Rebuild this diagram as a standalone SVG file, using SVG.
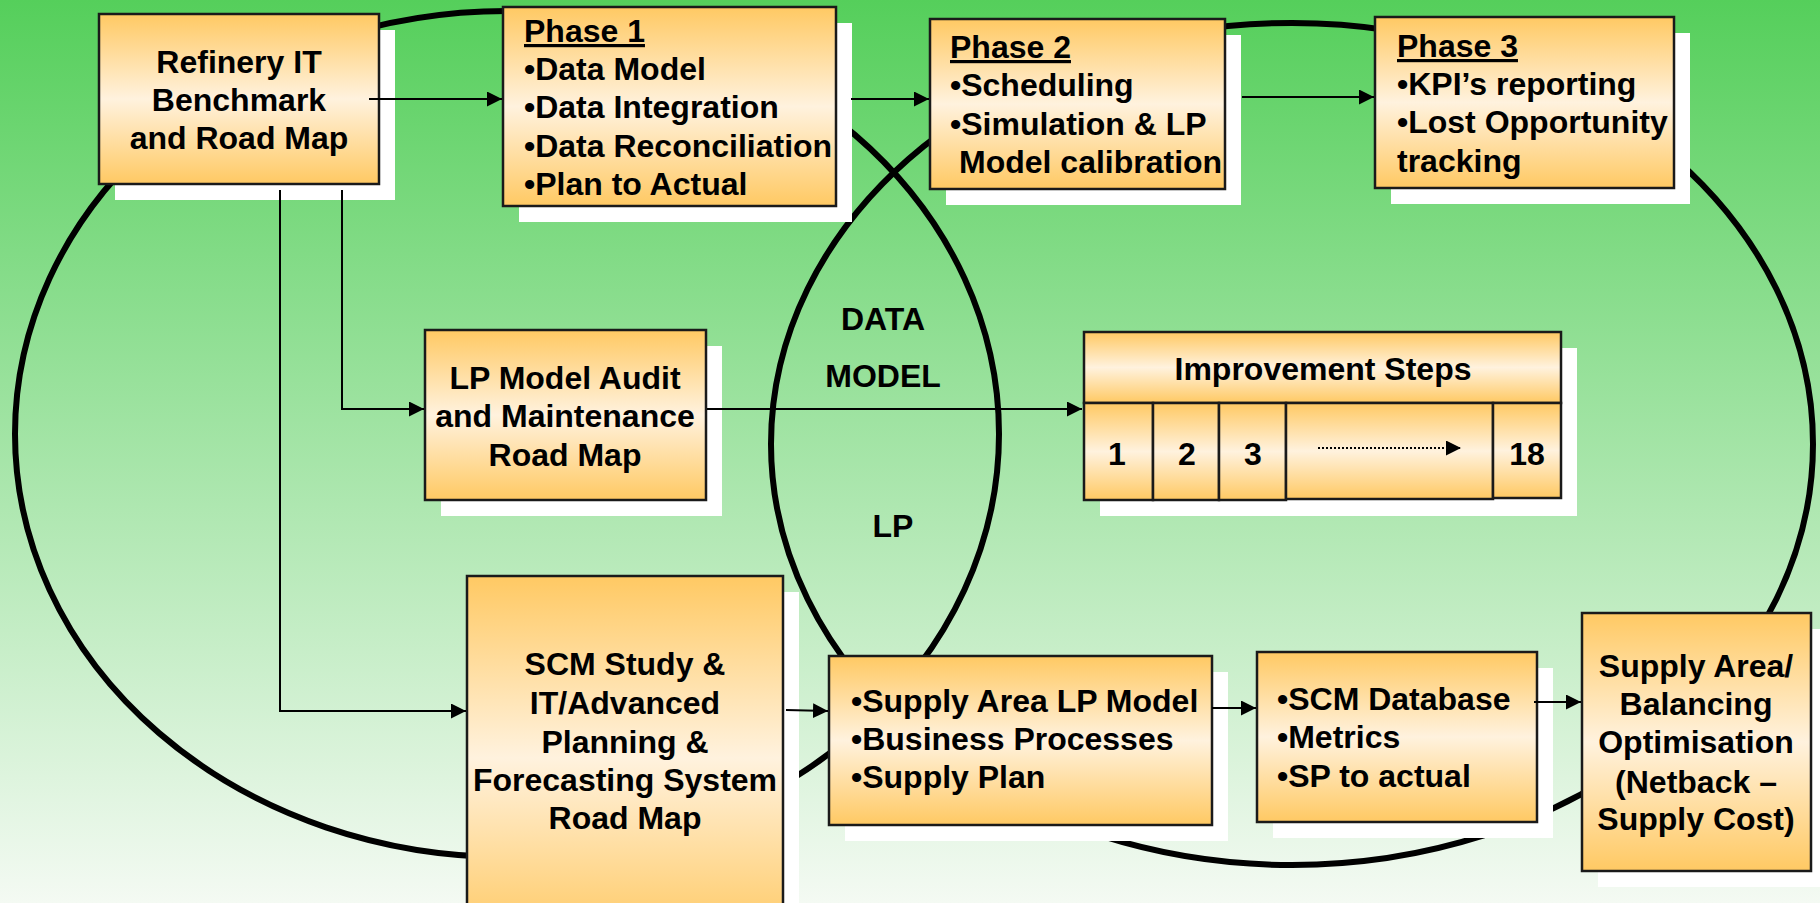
<svg xmlns="http://www.w3.org/2000/svg" width="1820" height="903" viewBox="0 0 1820 903">
<defs>
<linearGradient id="bg" x1="0" y1="0" x2="0" y2="1">
<stop offset="0" stop-color="#55CF5B"/>
<stop offset="1" stop-color="#F4FAF3"/>
</linearGradient>
<linearGradient id="box" x1="0" y1="0" x2="0" y2="1">
<stop offset="0" stop-color="#FFC963"/>
<stop offset="0.5" stop-color="#FFF2DE"/>
<stop offset="1" stop-color="#FFC963"/>
</linearGradient>
<marker id="ah" markerUnits="userSpaceOnUse" markerWidth="16" markerHeight="16" refX="15" refY="7.5" orient="auto">
<path d="M0,0 L15,7.5 L0,15 z" fill="#000"/>
</marker>
</defs>
<style>
.b{fill:url(#box);stroke:#1a1a1a;stroke-width:2.5}
.s{fill:#fff}
.t{font-family:"Liberation Sans",Arial,sans-serif;font-weight:bold;font-size:32px;fill:#000}
.c{text-anchor:middle}
.u{text-decoration:underline}
.e{fill:none;stroke:#000;stroke-width:6}
.k{fill:none;stroke:#000;stroke-width:2}
</style>
<rect x="0" y="0" width="1820" height="903" fill="url(#bg)"/>
<g id="ellipses">
<ellipse class="e" cx="507" cy="434" rx="492" ry="423"/>
<ellipse class="e" cx="1292" cy="444" rx="521" ry="421"/>
</g>
<g id="labels" class="t c">
<text x="883" y="330">DATA</text>
<text x="883" y="387">MODEL</text>
<text x="893" y="537">LP</text>
</g>
<g id="refinery">
<rect class="s" x="115" y="30" width="280" height="170"/>
<rect class="b" x="99" y="14" width="280" height="170"/>
<text class="t c" x="239" y="73">Refinery IT</text>
<text class="t c" x="239" y="111">Benchmark</text>
<text class="t c" x="239" y="149">and Road Map</text>
</g>
<g id="phase1">
<rect class="s" x="519" y="23" width="333" height="199"/>
<rect class="b" x="503" y="7" width="333" height="199"/>
<text class="t u" x="524" y="42">Phase 1</text>
<text class="t" x="524" y="80">•Data Model</text>
<text class="t" x="524" y="118">•Data Integration</text>
<text class="t" x="524" y="157">•Data Reconciliation</text>
<text class="t" x="524" y="195">•Plan to Actual</text>
</g>
<g id="phase2">
<rect class="s" x="946" y="35" width="295" height="170"/>
<rect class="b" x="930" y="19" width="295" height="170"/>
<text class="t u" x="950" y="58">Phase 2</text>
<text class="t" x="950" y="96">•Scheduling</text>
<text class="t" x="950" y="135">•Simulation &amp; LP</text>
<text class="t" x="959" y="173">Model calibration</text>
</g>
<g id="phase3">
<rect class="s" x="1391" y="33" width="299" height="171"/>
<rect class="b" x="1375" y="17" width="299" height="171"/>
<text class="t u" x="1397" y="57">Phase 3</text>
<text class="t" x="1397" y="95">•KPI’s reporting</text>
<text class="t" x="1397" y="133">•Lost Opportunity</text>
<text class="t" x="1397" y="172">tracking</text>
</g>
<g id="lpaudit">
<rect class="s" x="441" y="346" width="281" height="170"/>
<rect class="b" x="425" y="330" width="281" height="170"/>
<text class="t c" x="565" y="389">LP Model Audit</text>
<text class="t c" x="565" y="427">and Maintenance</text>
<text class="t c" x="565" y="466">Road Map</text>
</g>
<g id="improvement">
<rect class="s" x="1100" y="348" width="477" height="168"/>
<rect class="b" x="1084" y="332" width="477" height="71"/>
<rect class="b" x="1084" y="403" width="69" height="97"/>
<rect class="b" x="1153" y="403" width="66" height="97"/>
<rect class="b" x="1219" y="403" width="67" height="97"/>
<rect class="b" x="1286" y="403" width="207" height="96"/>
<rect class="b" x="1493" y="403" width="68" height="95"/>
<text class="t c" x="1323" y="380">Improvement Steps</text>
<text class="t c" x="1117" y="465">1</text>
<text class="t c" x="1187" y="465">2</text>
<text class="t c" x="1253" y="465">3</text>
<text class="t c" x="1527" y="465">18</text>
<line x1="1318" y1="448" x2="1461" y2="448" stroke="#000" stroke-width="2" stroke-dasharray="2,2" marker-end="url(#ah)"/>
</g>
<g id="scm">
<rect class="s" x="483" y="592" width="316" height="364"/>
<rect class="b" x="467" y="576" width="316" height="364"/>
<text class="t c" x="625" y="675">SCM Study &amp;</text>
<text class="t c" x="625" y="714">IT/Advanced</text>
<text class="t c" x="625" y="753">Planning &amp;</text>
<text class="t c" x="625" y="791">Forecasting System</text>
<text class="t c" x="625" y="829">Road Map</text>
</g>
<g id="supplylp">
<rect class="s" x="845" y="672" width="383" height="169"/>
<rect class="b" x="829" y="656" width="383" height="169"/>
<text class="t" x="851" y="712">•Supply Area LP Model</text>
<text class="t" x="851" y="750">•Business Processes</text>
<text class="t" x="851" y="788">•Supply Plan</text>
</g>
<g id="scmdb">
<rect class="s" x="1273" y="668" width="280" height="170"/>
<rect class="b" x="1257" y="652" width="280" height="170"/>
<text class="t" x="1277" y="710">•SCM Database</text>
<text class="t" x="1277" y="748">•Metrics</text>
<text class="t" x="1277" y="787">•SP to actual</text>
</g>
<g id="supplyarea">
<rect class="s" x="1598" y="629" width="229" height="258"/>
<rect class="b" x="1582" y="613" width="229" height="258"/>
<text class="t c" x="1696" y="677">Supply Area/</text>
<text class="t c" x="1696" y="715">Balancing</text>
<text class="t c" x="1696" y="753">Optimisation</text>
<text class="t c" x="1696" y="793">(Netback –</text>
<text class="t c" x="1696" y="830">Supply Cost)</text>
</g>
<g id="connectors">
<line class="k" x1="369" y1="99" x2="502" y2="99" marker-end="url(#ah)"/>
<line class="k" x1="851" y1="99" x2="929" y2="99" marker-end="url(#ah)"/>
<line class="k" x1="1242" y1="97" x2="1374" y2="97" marker-end="url(#ah)"/>
<path class="k" d="M342,190 V409 H424" marker-end="url(#ah)"/>
<path class="k" d="M280,190 V711 H466" marker-end="url(#ah)"/>
<line class="k" x1="707" y1="409" x2="1082" y2="409" marker-end="url(#ah)"/>
<line class="k" x1="786" y1="710" x2="828" y2="711" marker-end="url(#ah)"/>
<line class="k" x1="1212" y1="708" x2="1256" y2="708" marker-end="url(#ah)"/>
<line class="k" x1="1534" y1="702" x2="1581" y2="702" marker-end="url(#ah)"/>
</g>
</svg>
